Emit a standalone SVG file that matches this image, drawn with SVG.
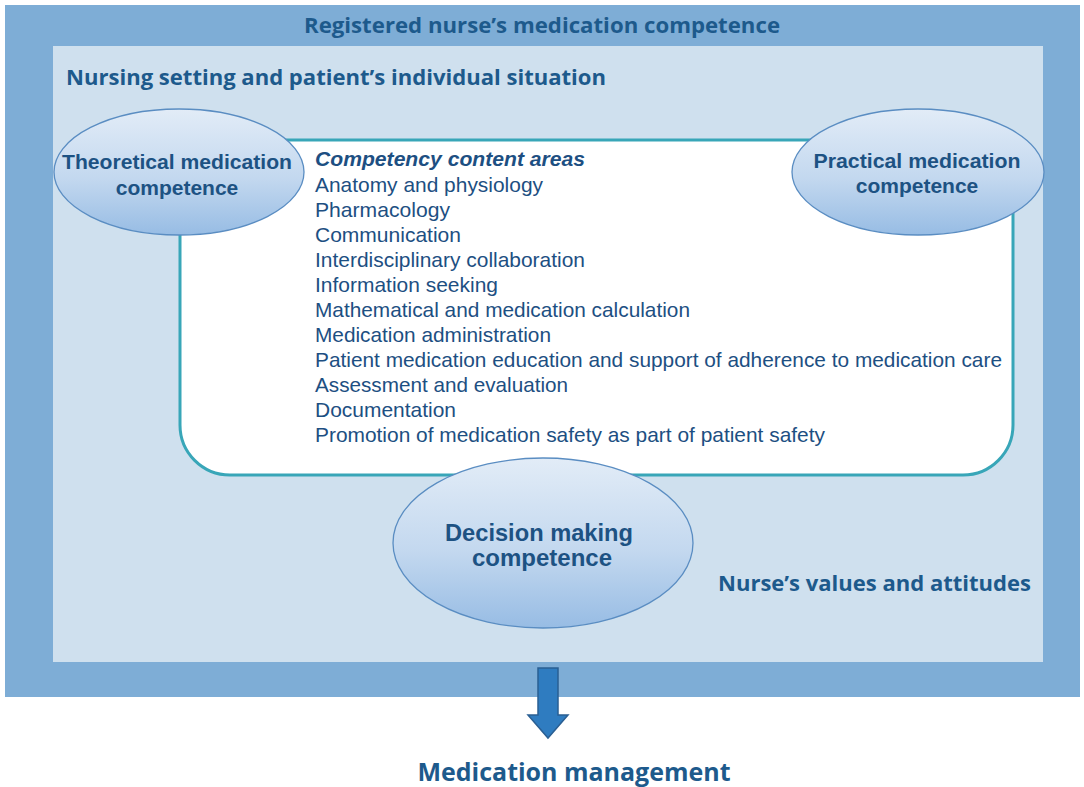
<svg xmlns="http://www.w3.org/2000/svg" width="1084" height="787" viewBox="0 0 1084 787">
  <defs>
    <linearGradient id="ovalFill" x1="0" y1="0" x2="0" y2="1">
      <stop offset="0" stop-color="#e2ecf7"/>
      <stop offset="0.55" stop-color="#c3d8ef"/>
      <stop offset="1" stop-color="#97bce4"/>
    </linearGradient>
    <style>
      .frame-outer { fill: #7eadd6; }
      .frame-inner { fill: #cfe0ee; }
      .content-box { fill: #ffffff; stroke: #38a6b8; stroke-width: 3; }
      .oval { fill: url(#ovalFill); stroke: #5a8dc2; stroke-width: 1.3; }
      .heading { font-family: "Open Sans", "Liberation Sans", sans-serif; font-weight: bold; fill: #1d5a8c; }
      .oval-label { font-family: "Liberation Sans", Arial, sans-serif; font-weight: bold; font-size: 21px; fill: #1d5283; text-anchor: middle; }
      .oval-label.large { font-size: 24px; }
      .item { font-family: "Liberation Sans", Arial, sans-serif; font-size: 21px; fill: #1d4f82; }
      .item-title { font-style: italic; font-weight: bold; }
      .arrow { fill: #2f7cc0; stroke: #2a5f93; stroke-width: 1.5; }
    </style>
  </defs>

  <!-- outer frame: registered nurse's medication competence -->
  <g id="outer-frame">
    <rect class="frame-outer" x="5" y="5" width="1075" height="692"/>
    <text class="heading" x="542" y="33" font-size="21" text-anchor="middle" textLength="476" lengthAdjust="spacingAndGlyphs">Registered nurse’s medication competence</text>
  </g>

  <!-- inner frame: nursing setting -->
  <g id="inner-frame">
    <rect class="frame-inner" x="53" y="46" width="990" height="616"/>
    <text class="heading" x="66" y="85" font-size="22" textLength="540" lengthAdjust="spacingAndGlyphs">Nursing setting and patient’s individual situation</text>
    <text class="heading" x="718" y="591" font-size="22" textLength="313" lengthAdjust="spacingAndGlyphs">Nurse’s values and attitudes</text>
  </g>

  <!-- competency content areas -->
  <g id="content-areas">
    <rect class="content-box" x="180" y="140" width="833" height="335" rx="50" ry="50"/>
    <text class="item item-title" x="315" y="166" textLength="270" lengthAdjust="spacingAndGlyphs">Competency content areas</text>
    <text class="item" x="315" y="192" textLength="228" lengthAdjust="spacingAndGlyphs">Anatomy and physiology</text>
    <text class="item" x="315" y="217" textLength="135" lengthAdjust="spacingAndGlyphs">Pharmacology</text>
    <text class="item" x="315" y="242" textLength="146" lengthAdjust="spacingAndGlyphs">Communication</text>
    <text class="item" x="315" y="267" textLength="270" lengthAdjust="spacingAndGlyphs">Interdisciplinary collaboration</text>
    <text class="item" x="315" y="292" textLength="183" lengthAdjust="spacingAndGlyphs">Information seeking</text>
    <text class="item" x="315" y="317" textLength="375" lengthAdjust="spacingAndGlyphs">Mathematical and medication calculation</text>
    <text class="item" x="315" y="342" textLength="236" lengthAdjust="spacingAndGlyphs">Medication administration</text>
    <text class="item" x="315" y="367" textLength="687" lengthAdjust="spacingAndGlyphs">Patient medication education and support of adherence to medication care</text>
    <text class="item" x="315" y="392" textLength="253" lengthAdjust="spacingAndGlyphs">Assessment and evaluation</text>
    <text class="item" x="315" y="417" textLength="141" lengthAdjust="spacingAndGlyphs">Documentation</text>
    <text class="item" x="315" y="442" textLength="510" lengthAdjust="spacingAndGlyphs">Promotion of medication safety as part of patient safety</text>
  </g>

  <g id="theoretical">
    <ellipse class="oval" cx="179" cy="172" rx="125" ry="63"/>
    <text class="oval-label" x="177" y="169" textLength="230" lengthAdjust="spacingAndGlyphs">Theoretical medication</text>
    <text class="oval-label" x="177" y="195">competence</text>
  </g>

  <g id="practical">
    <ellipse class="oval" cx="918" cy="172" rx="126" ry="63"/>
    <text class="oval-label" x="917" y="168" textLength="207" lengthAdjust="spacingAndGlyphs">Practical medication</text>
    <text class="oval-label" x="917" y="193">competence</text>
  </g>

  <g id="decision">
    <ellipse class="oval" cx="543" cy="543" rx="150" ry="85"/>
    <text class="oval-label large" x="539" y="541" textLength="188" lengthAdjust="spacingAndGlyphs">Decision making</text>
    <text class="oval-label large" x="542" y="566">competence</text>
  </g>

  <!-- block arrow down to the outcome -->
  <g id="connectors">
    <path class="arrow" d="M538,668 H558 V715 H568 L548,738 L528,715 H538 Z"/>
  </g>

  <g id="outcome">
    <text class="heading" x="574" y="781" font-size="25" text-anchor="middle" textLength="313" lengthAdjust="spacingAndGlyphs">Medication management</text>
  </g>
</svg>
